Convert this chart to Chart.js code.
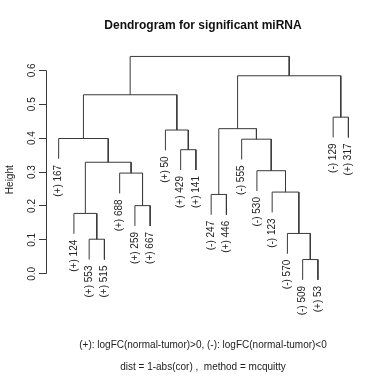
<!DOCTYPE html>
<html>
<head>
<meta charset="utf-8">
<script src="https://cdn.jsdelivr.net/npm/chart.js@4.4.1/dist/chart.umd.min.js"></script>
<style>
  html, body { margin: 0; padding: 0; background: #fff; }
  #wrap { width: 385px; height: 384px; }
</style>
</head>
<body>
<div id="wrap"><canvas id="dendro"></canvas></div>
<script>
// leaves in plotted order (left to right)
const leafLabels = [
  "(+) 167", "(+) 124", "(+) 553", "(+) 515", "(+) 688", "(+) 259", "(+) 667",
  "(+) 50", "(+) 429", "(+) 141", "(-) 247", "(+) 446", "(-) 555", "(-) 530",
  "(-) 123", "(-) 570", "(-) 509", "(+) 53", "(-) 129", "(+) 317"
];
// merge table, R style: negative = leaf number, positive = earlier merge row
const mergeLeft   = [-17, -3, -16, -2, -6, -11, -15, -5, -14, 4, -9, -13, -1, -8, 6, -19, 13, 15, 17];
const mergeRight  = [-18, -4,   1,  2, -7, -12,   3,  5,   7, 8, -10,  9, 10, 11, 12, -20, 14, 16, 18];
const mergeHeight = [0.042, 0.102, 0.119, 0.178, 0.201, 0.234, 0.241, 0.297, 0.304, 0.329,
                     0.366, 0.397, 0.399, 0.424, 0.428, 0.462, 0.528, 0.584, 0.641];
const yTicks = [0, 0.1, 0.2, 0.3, 0.4, 0.5, 0.6];

const titleText = "Dendrogram for significant miRNA";
const subText = [
  "(+): logFC(normal-tumor)>0, (-): logFC(normal-tumor)<0",
  "dist = 1-abs(cor) ,  method = mcquitty"
];

const LINE = "#3a3a3a";
const TEXT = "#222";
const FONT = "'Liberation Sans', Arial, sans-serif";

// leaves hang 10% of the height range below their merge
const hang = 0.1 * (Math.max(...mergeHeight) - Math.min(...mergeHeight));
const nodeX = [];
const leafEnd = [];

function childPos(id, h) {
  if (id < 0) {
    leafEnd[-id - 1] = h - hang;
    return { x: -id, y: h - hang };
  }
  return { x: nodeX[id - 1], y: mergeHeight[id - 1] };
}

const datasets = mergeHeight.map((h, k) => {
  const a = childPos(mergeLeft[k], h);
  const b = childPos(mergeRight[k], h);
  nodeX[k] = (a.x + b.x) / 2;
  return {
    data: [{ x: a.x, y: a.y }, { x: a.x, y: h }, { x: b.x, y: h }, { x: b.x, y: b.y }],
    borderColor: LINE,
    borderWidth: 1,
    pointRadius: 0,
    tension: 0,
    fill: false
  };
});

const leafText = {
  id: "leafText",
  afterDatasetsDraw(chart) {
    const { ctx, scales: { x, y } } = chart;
    ctx.save();
    ctx.font = "10px " + FONT;
    ctx.fillStyle = TEXT;
    ctx.textAlign = "right";
    ctx.textBaseline = "middle";
    leafLabels.forEach((lab, i) => {
      ctx.save();
      ctx.translate(x.getPixelForValue(i + 1), y.getPixelForValue(leafEnd[i]) + 6);
      ctx.rotate(-Math.PI / 2);
      ctx.fillText(lab, 0, 0);
      ctx.restore();
    });
    // R style axis line, only across the tick range
    ctx.strokeStyle = LINE;
    ctx.lineWidth = 1;
    ctx.beginPath();
    const ax = Math.round(chart.chartArea.left) + 0.5;
    ctx.moveTo(ax, y.getPixelForValue(yTicks[0]));
    ctx.lineTo(ax, y.getPixelForValue(yTicks[yTicks.length - 1]));
    ctx.stroke();
    ctx.restore();
  }
};

new Chart(document.getElementById("dendro").getContext("2d"), {
  type: "line",
  data: { datasets },
  options: {
    responsive: true,
    maintainAspectRatio: false,
    animation: false,
    layout: { padding: { left: 0, right: 25, top: 0, bottom: 0 } },
    scales: {
      x: { type: "linear", min: 0.17, max: 20.76, display: false },
      y: {
        type: "linear",
        min: -0.095,
        max: 0.65,
        afterBuildTicks: s => { s.ticks = yTicks.map(v => ({ value: v })); },
        afterFit: s => { s.width = 46; },
        border: { display: false },
        grid: { drawOnChartArea: false, tickLength: 7, color: LINE },
        ticks: {
          minRotation: 90,
          maxRotation: 90,
          crossAlign: "center",
          padding: 0,
          color: TEXT,
          font: { size: 10, family: FONT },
          callback: v => Number(v).toFixed(1)
        },
        title: { display: true, text: "Height", color: TEXT, font: { size: 10, family: FONT } }
      }
    },
    plugins: {
      legend: { display: false },
      tooltip: { enabled: false },
      title: {
        display: true,
        fullSize: false,
        text: titleText,
        color: "#111",
        font: { size: 12, weight: "bold", family: FONT },
        padding: { top: 18, bottom: 21 }
      },
      subtitle: {
        display: true,
        fullSize: false,
        position: "bottom",
        text: subText,
        color: TEXT,
        font: { size: 10, family: FONT, lineHeight: 2.2 },
        padding: { top: 28, bottom: 6 }
      }
    }
  },
  plugins: [leafText]
});
</script>
</body>
</html>
